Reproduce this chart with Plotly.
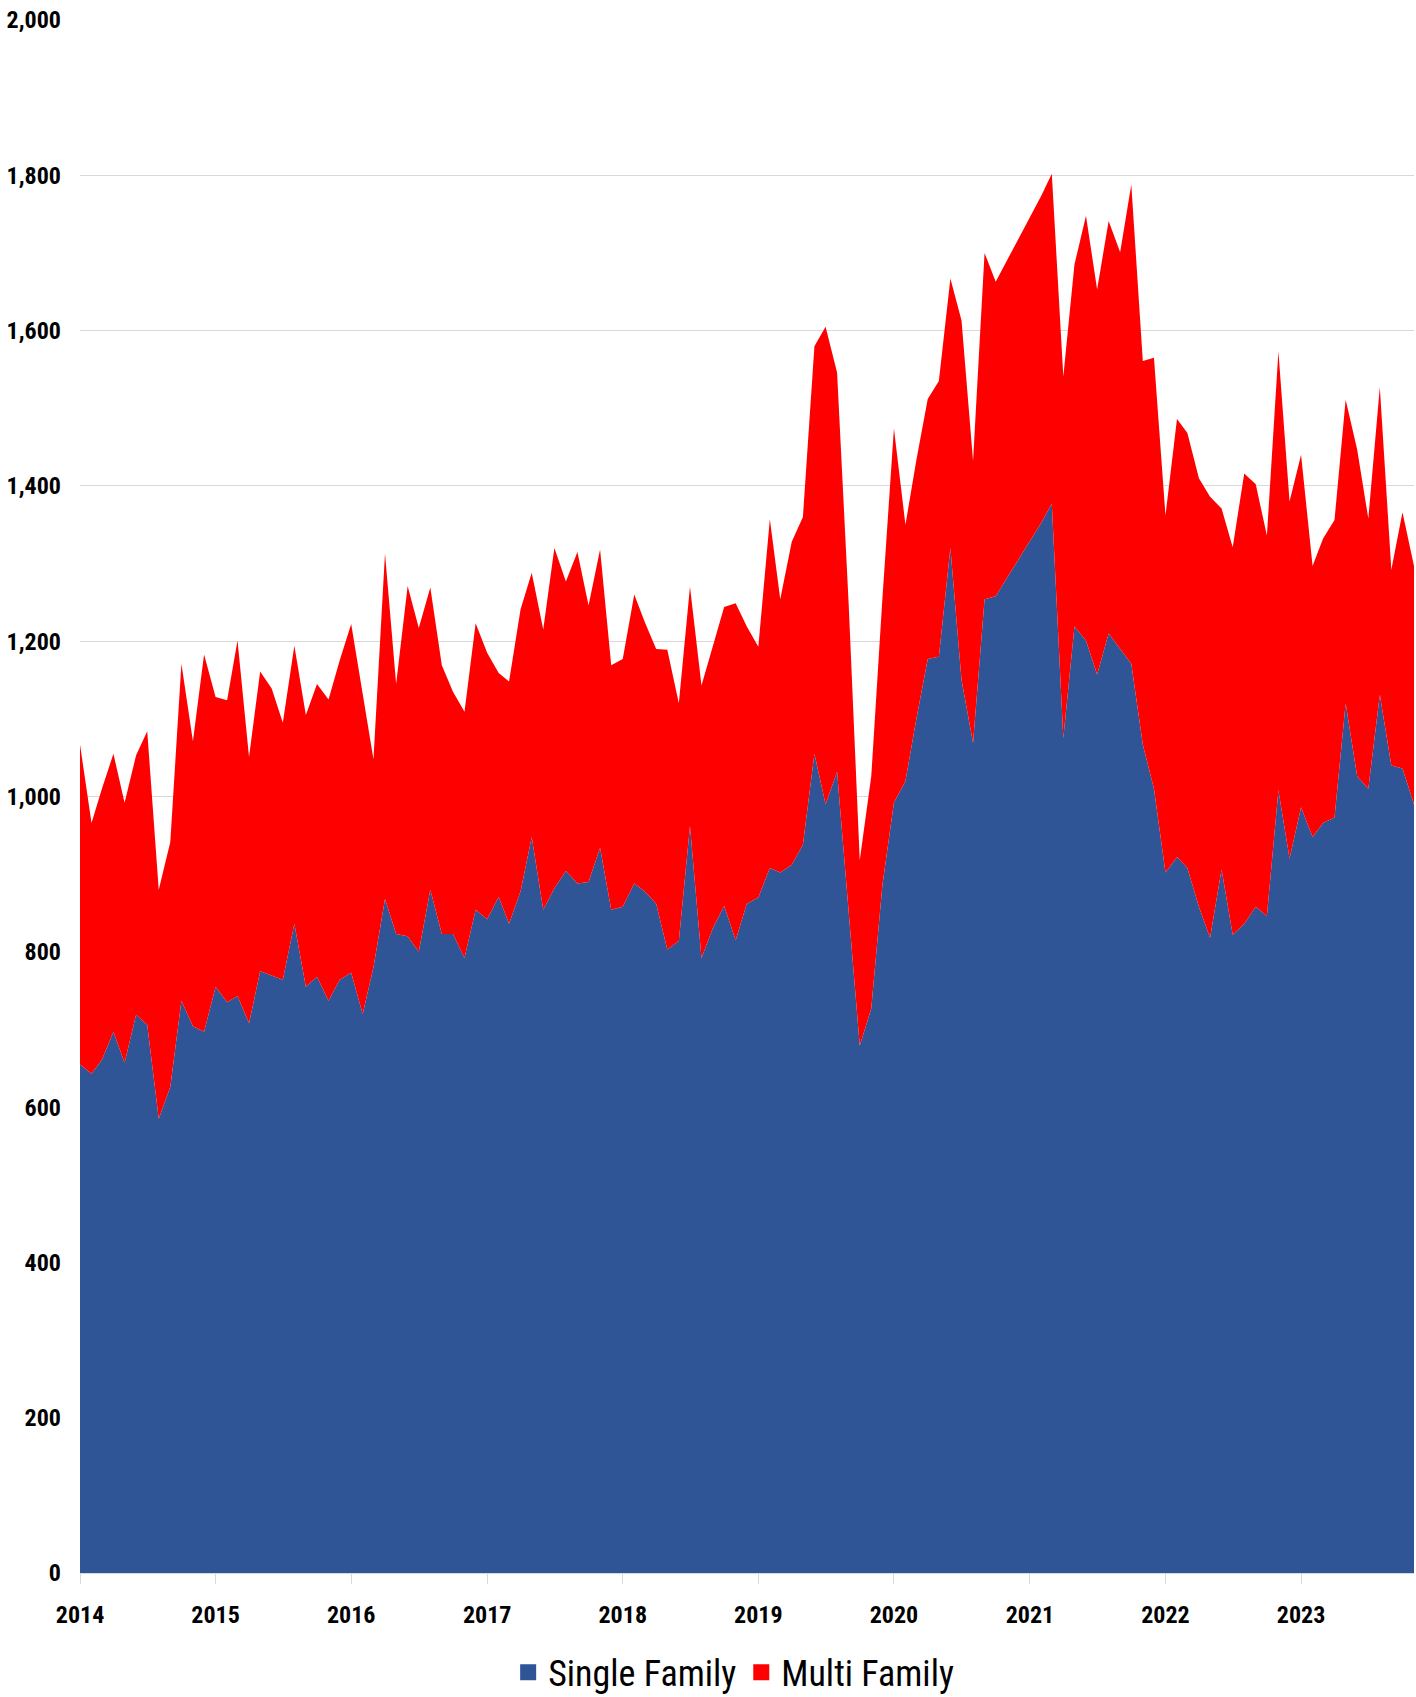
import pandas as pd
import plotly.graph_objects as go

months = pd.date_range("2014-01-01", "2023-11-01", freq="MS")

single_family = [
    655, 643, 661, 697, 657, 719, 706, 585, 626, 737, 704, 697,
    755, 735, 743, 708, 775, 769, 764, 836, 755, 768, 737, 764,
    773, 720, 780, 868, 823, 820, 800, 880, 823, 823, 792, 854,
    842, 871, 836, 878, 948, 854, 882, 904, 888, 890, 934, 854,
    858, 888, 878, 862, 803, 814, 962, 792, 831, 859, 815, 862,
    870, 908, 902, 912, 938, 1055, 990, 1032, 855, 679, 727, 886,
    992, 1020, 1099, 1177, 1180, 1320, 1150, 1069, 1254, 1258, 1282, 1306,
    1329, 1353, 1377, 1075, 1219, 1201, 1157, 1210, 1190, 1171, 1067, 1010,
    902, 922, 908, 858, 818, 906, 822, 836, 858, 846, 1008, 920,
    986, 948, 966, 973, 1120, 1026, 1010, 1131, 1040, 1036, 990,
]

multi_family = [
    412, 323, 349, 358, 335, 334, 378, 295, 315, 434, 367, 486,
    373, 389, 458, 343, 386, 370, 331, 358, 350, 377, 388, 411,
    449, 413, 268, 445, 322, 451, 417, 389, 346, 312, 317, 369,
    343, 288, 312, 363, 340, 361, 438, 373, 427, 356, 384, 315,
    319, 372, 347, 328, 386, 306, 308, 351, 364, 385, 434, 357,
    323, 449, 352, 416, 422, 525, 615, 514, 395, 239, 299, 369,
    482, 330, 333, 335, 355, 347, 463, 363, 446, 405, 409, 413,
    417, 421, 425, 466, 466, 547, 496, 531, 511, 617, 494, 555,
    460, 564, 560, 552, 568, 465, 499, 580, 544, 490, 565, 460,
    454, 349, 366, 383, 391, 421, 348, 396, 252, 330, 307,
]

series_names = ["Single Family", "Multi Family"]
series_colors = ["#2F5597", "#FF0000"]

FONT = "Liberation Sans Narrow, Roboto Condensed, Arial Narrow, Liberation Sans, sans-serif"

fig = go.Figure()
for name, vals, col in zip(series_names, [single_family, multi_family], series_colors):
    fig.add_trace(go.Scatter(
        x=months, y=vals, name=name, mode="lines", stackgroup="one",
        line=dict(width=0, color=col), fillcolor=col, showlegend=False,
        hoverinfo="x+y",
    ))
    fig.add_trace(go.Scatter(
        x=[None], y=[None], name=name, mode="markers",
        marker=dict(symbol="square", size=16, color=col),
        showlegend=True,
    ))

fig.update_layout(
    width=1416, height=1697,
    margin=dict(l=80, r=2, t=20, b=124, autoexpand=False),
    paper_bgcolor="white", plot_bgcolor="white",
    font=dict(family=FONT, color="#000000", size=24),
    legend=dict(
        orientation="h", x=0.49, xanchor="center", y=-0.064, yanchor="middle",
        font=dict(size=36, family=FONT, color="#000000"),
        itemsizing="trace", traceorder="normal",
    ),
    xaxis=dict(
        type="date",
        range=[months[0], months[-1]],
        dtick="M12", tick0="2014-01-01", tickformat="%Y",
        showgrid=False, showline=True, linecolor="#d9d9d9", linewidth=1,
        ticks="outside", ticklen=10, tickcolor="#d9d9d9",
        ticklabelstandoff=10, automargin=False,
        tickfont=dict(size=24, family=FONT, weight="bold"),
    ),
    yaxis=dict(
        range=[0, 2000], dtick=200, tickformat=",d",
        showgrid=True, gridcolor="#d9d9d9", gridwidth=1,
        zeroline=False, showline=False, ticks="",
        ticklabelstandoff=18, automargin=False,
        tickfont=dict(size=24, family=FONT, weight="bold"),
    ),
)

fig.write_html(
    "out.html",
    config={"displayModeBar": False},
    post_script="document.body.style.margin='0';document.body.style.padding='0';document.body.style.overflow='hidden';",
)
